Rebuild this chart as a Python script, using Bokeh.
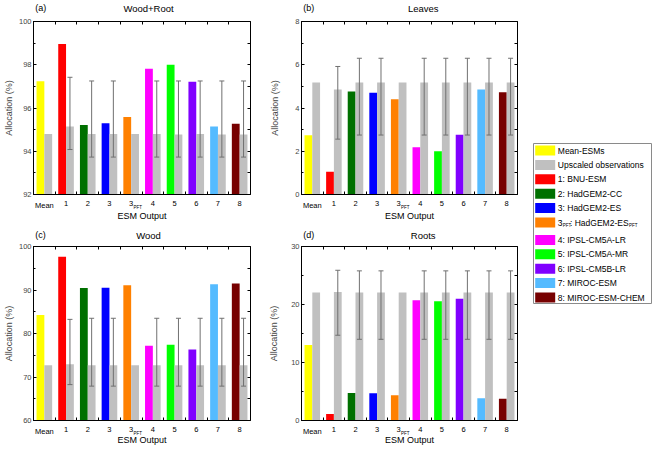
from bokeh.plotting import figure
from bokeh.models import (Range1d, FixedTicker, SingleIntervalTicker, LinearAxis,
                          ColumnDataSource, Whisker, TeeHead)
from bokeh.layouts import row, column
from bokeh.transform import dodge
from bokeh.embed import file_html
from bokeh.resources import INLINE
from bokeh.core.properties import value

# ---------------- data ----------------
categories = ["Mean", "1", "2", "3", "3PFT", "4", "5", "6", "7", "8"]
bar_colors = ["#ffff00", "#ff0000", "#007000", "#0000ff", "#ff8000",
              "#ff00ff", "#00ff00", "#8000ff", "#55bbff", "#770000"]
obs_color = "#c0c0c0"

wr_esm = [97.24, 98.96, 95.21, 95.29, 95.58, 97.82, 98.00, 97.21, 95.14, 95.27]
wr_obs = [94.80, 95.14, 94.80, 94.80, 94.80, 94.80, 94.78, 94.80, 94.78, 94.78]
wr_lo = [None, 94.08, 93.73, 93.73, None, 93.73, 93.73, 93.73, 93.73, 93.73]
wr_hi = [None, 97.42, 97.25, 97.25, None, 97.25, 97.25, 97.25, 97.25, 97.25]

lv_esm = [2.74, 1.05, 4.76, 4.71, 4.41, 2.18, 2.00, 2.76, 4.85, 4.73]
lv_obs = [5.18, 4.85, 5.18, 5.18, 5.18, 5.18, 5.18, 5.18, 5.18, 5.18]
lv_lo = [None, 2.56, 2.75, 2.75, None, 2.75, 2.75, 2.75, 2.75, 2.75]
lv_hi = [None, 5.92, 6.30, 6.30, None, 6.30, 6.30, 6.30, 6.30, 6.30]

wd_esm = [84.25, 97.65, 90.45, 90.50, 91.10, 77.20, 77.40, 76.30, 91.30, 91.50]
wd_obs = [72.70, 72.95, 72.70, 72.70, 72.70, 72.70, 72.70, 72.70, 72.70, 72.70]
wd_lo = [None, 68.25, 67.90, 67.90, None, 67.90, 67.90, 67.90, 67.90, 67.90]
wd_hi = [None, 83.25, 83.50, 83.50, None, 83.50, 83.50, 83.50, 83.50, 83.50]

rt_esm = [13.00, 1.14, 4.74, 4.69, 4.34, 20.74, 20.57, 21.00, 3.83, 3.77]
rt_obs = [22.06, 22.17, 22.06, 22.06, 22.06, 22.06, 22.06, 22.06, 22.06, 22.06]
rt_lo = [None, 14.70, 14.00, 14.00, None, 14.00, 14.00, 14.00, 14.00, 14.00]
rt_hi = [None, 25.90, 25.80, 25.80, None, 25.80, 25.80, 25.80, 25.80, 25.80]

legend_labels = ["Mean-ESMs", "Upscaled observations", "1: BNU-ESM", "2: HadGEM2-CC",
                 "3: HadGEM2-ES", "3PFT: HadGEM2-ESPFT", "4: IPSL-CM5A-LR",
                 "5: IPSL-CM5A-MR", "6: IPSL-CM5B-LR", "7: MIROC-ESM", "8: MIROC-ESM-CHEM"]
legend_colors = [bar_colors[0], obs_color] + bar_colors[1:]

FONT = "Liberation Sans"
ERR_COLOR = "#707070"
XS = list(range(1, len(categories) + 1))
BOUNDS = [x + 0.5 for x in XS[:-1]]
PAD = 5  # white border above/below each plotting frame (room for end tick labels)


def blank(fig):
    fig.axis.visible = False
    fig.grid.visible = False
    fig.outline_line_color = None
    return fig


def title_strip(title, letter, width, height, frame_left, frame_w, ymid):
    s = figure(width=width, height=height, x_range=Range1d(0, width),
               y_range=Range1d(height, 0), output_backend="svg",
               toolbar_location=None, min_border=0)
    blank(s)
    s.text(x=[2], y=[ymid], text=[letter], text_align="left",
           text_baseline="middle", text_font=value(FONT), text_font_size="9px")
    s.text(x=[frame_left + frame_w / 2], y=[ymid], text=[title], text_align="center",
           text_baseline="middle", text_font=value(FONT), text_font_size="9.5px")
    return s


def make_panel(esm, obs, lo, hi, y0, y1, step, width, frame_h, mbl, mbr, ylab_standoff):
    p = figure(width=width, height=frame_h + 2 * PAD, x_range=Range1d(0.5, 10.5),
               y_range=Range1d(y0, y1), output_backend="svg", toolbar_location=None,
               min_border_left=mbl, min_border_right=mbr, min_border_top=PAD,
               min_border_bottom=PAD)
    p.xgrid.visible = False
    p.ygrid.visible = False
    p.outline_line_color = "black"
    p.outline_line_width = 1

    src = ColumnDataSource(dict(x=XS, esm=esm, obs=obs, color=bar_colors))
    p.vbar(x=dodge("x", -0.18), top="esm", bottom=y0, width=0.36,
           fill_color="color", line_color=None, source=src)
    p.vbar(x=dodge("x", 0.18), top="obs", bottom=y0, width=0.36,
           fill_color=obs_color, line_color=None, source=src)

    idx = [i for i in range(len(XS)) if lo[i] is not None]
    esrc = ColumnDataSource(dict(x=[XS[i] for i in idx], lower=[lo[i] for i in idx],
                                 upper=[hi[i] for i in idx]))
    w = Whisker(base=dodge("x", 0.18), lower="lower", upper="upper", source=esrc,
                line_color=ERR_COLOR, line_width=1, level="overlay",
                upper_head=TeeHead(size=5, line_color=ERR_COLOR, line_width=1),
                lower_head=TeeHead(size=5, line_color=ERR_COLOR, line_width=1))
    p.add_layout(w)

    # bottom axis: only inward ticks between the groups
    xa = p.xaxis[0]
    xa.ticker = FixedTicker(ticks=[], minor_ticks=BOUNDS)
    xa.major_tick_in = 0
    xa.major_tick_out = 0
    xa.minor_tick_in = 3
    xa.minor_tick_out = 0
    xa.major_label_standoff = 0
    xa.axis_label_standoff = 0
    xa.axis_line_color = "black"

    ya = p.yaxis[0]
    ya.ticker = SingleIntervalTicker(interval=step, num_minor_ticks=2)
    ya.major_tick_in = 3
    ya.major_tick_out = 0
    ya.minor_tick_in = 2
    ya.minor_tick_out = 0
    ya.major_label_standoff = 2
    ya.major_label_text_font = FONT
    ya.major_label_text_font_size = "7.5px"
    ya.axis_label = "Allocation (%)"
    ya.axis_label_text_font = FONT
    ya.axis_label_text_font_size = "9px"
    ya.axis_label_text_font_style = "normal"
    ya.axis_label_standoff = ylab_standoff
    ya.axis_line_color = "black"

    half = step / 2.0
    n = int(round((y1 - y0) / half))
    rticks = [y0 + k * half for k in range(1, n)]
    ra = LinearAxis(ticker=FixedTicker(ticks=[], minor_ticks=rticks),
                    major_label_standoff=0, axis_label_standoff=0,
                    major_tick_in=0, major_tick_out=0, minor_tick_in=3, minor_tick_out=0,
                    axis_line_color="black")
    p.add_layout(ra, "right")
    ta = LinearAxis(ticker=FixedTicker(ticks=[], minor_ticks=BOUNDS),
                    major_label_standoff=0, axis_label_standoff=0,
                    major_tick_in=0, major_tick_out=0, minor_tick_in=3, minor_tick_out=0,
                    axis_line_color="black")
    p.add_layout(ta, "above")
    return p


def label_strip(panel, width, height, mbl, mbr, tick_y, xlab_y):
    s = figure(width=width, height=height, x_range=panel.x_range,
               y_range=Range1d(height, 0), output_backend="svg", toolbar_location=None,
               min_border_left=mbl, min_border_right=mbr, min_border_top=0,
               min_border_bottom=0)
    blank(s)
    labels = [("3" if c == "3PFT" else c) for c in categories]
    s.text(x=XS, y=[tick_y] * len(XS), text=labels, text_align="center",
           text_baseline="top", text_font=value(FONT), text_font_size="7.5px")
    k = categories.index("3PFT") + 1
    s.text(x=[k], y=[tick_y + 4.2], text=["PFT"], x_offset=2.3, text_align="left",
           text_baseline="top", text_font=value(FONT), text_font_size="4.5px")
    s.text(x=[5.5], y=[xlab_y], text=["ESM Output"], text_align="center",
           text_baseline="top", text_font=value(FONT), text_font_size="9px")
    return s


FW = 218
A_W, A_L, A_R = 266, 32, 16
B_W, B_L, B_R = 252, 33, 1

# top row
ta_strip = title_strip("Wood+Root", "(a)", A_W, 16, A_L, FW, 7.5)
tb_strip = title_strip("Leaves", "(b)", B_W, 16, B_L, FW, 7.5)
pa = make_panel(wr_esm, wr_obs, wr_lo, wr_hi, 92, 100, 2, A_W, 173, A_L, A_R, 2)
pb = make_panel(lv_esm, lv_obs, lv_lo, lv_hi, 0, 8, 2, B_W, 173, B_L, B_R, 12)
la = label_strip(pa, A_W, 23, A_L, A_R, 1, 11)
lb = label_strip(pb, B_W, 23, B_L, B_R, 1, 11)

# bottom row
tc_strip = title_strip("Wood", "(c)", A_W, 19, A_L, FW, 12.5)
td_strip = title_strip("Roots", "(d)", B_W, 19, B_L, FW, 12.5)
pc = make_panel(wd_esm, wd_obs, wd_lo, wd_hi, 60, 100, 10, A_W, 174, A_L, A_R, 2)
pd = make_panel(rt_esm, rt_obs, rt_lo, rt_hi, 0, 30, 10, B_W, 174, B_L, B_R, 9)
lc = label_strip(pc, A_W, 20, A_L, A_R, 1, 9)
ld = label_strip(pd, B_W, 20, B_L, B_R, 1, 9)

TOTAL_H = 16 + 183 + 23 + 19 + 184 + 20

# ---------------- legend ----------------
LW, LH = 134, TOTAL_H
leg = figure(width=LW, height=LH, x_range=Range1d(0, LW), y_range=Range1d(LH, 0),
             output_backend="svg", toolbar_location=None, min_border=0)
blank(leg)

leg.quad(left=15, right=133, top=143, bottom=303, fill_color="white",
         line_color="#8a8a8a", line_width=1)

ys = []
y = 150.0
for lab in legend_labels:
    ys.append(y)
    y += 14.4 + (3.0 if lab.startswith("3PFT") else 0.0)

lsrc = ColumnDataSource(dict(y=ys, color=legend_colors,
                             text=[("3" if l.startswith("3PFT") else l) for l in legend_labels]))
leg.rect(x=26.7, y="y", width=20, height=10, fill_color="color", line_color=None, source=lsrc)
leg.text(x=39.3, y="y", text="text", text_baseline="middle", text_align="left",
         text_font=value(FONT), text_font_size="8.5px", source=lsrc)

j = [i for i, l in enumerate(legend_labels) if l.startswith("3PFT")][0]
yj = ys[j]
leg.text(x=[44.2, 110.6], y=[yj + 2.5, yj + 2.5], text=["PFT", "PFT"],
         text_baseline="middle", text_align="left",
         text_font=value(FONT), text_font_size="4.5px")
leg.text(x=[51.5], y=[yj], text=[": HadGEM2-ES"], text_baseline="middle",
         text_align="left", text_font=value(FONT), text_font_size="8.5px")

layout = row(column(ta_strip, pa, la, tc_strip, pc, lc),
             column(tb_strip, pb, lb, td_strip, pd, ld),
             leg)

with open("out.html", "w") as f:
    f.write(file_html(layout, INLINE))
